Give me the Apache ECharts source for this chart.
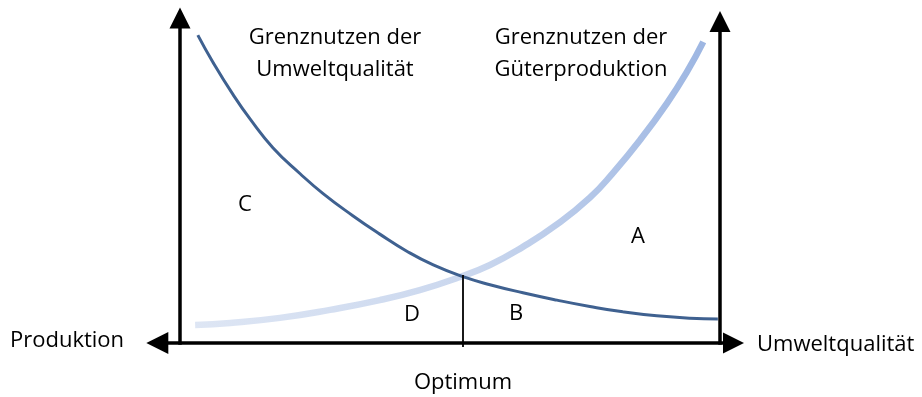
<!DOCTYPE html>
<html>
<head>
<meta charset="utf-8">
<script src="https://cdn.jsdelivr.net/npm/echarts@6/dist/echarts.min.js"></script>
<style>
  html, body { margin: 0; padding: 0; background: #fff; }
  #chart { width: 922px; height: 397px; }
</style>
</head>
<body>
<div id="chart"></div>
<script>
// Grenznutzen der Umweltqualität (fallend)
var umweltX = [3.3, 6.1, 9.8, 13.0, 17.2, 22.2, 26.5, 32.0, 37.0, 42.0, 46.9, 52.4, 57.4, 63.5, 69.8, 75.9, 82.0, 88.3, 94.4, 99.6];
var umweltY = [91.9, 83.8, 74.2, 66.8, 58.3, 50.6, 44.6, 38.0, 32.5, 27.4, 23.3, 19.8, 17.4, 15.0, 12.8, 10.9, 9.3, 8.1, 7.4, 7.2];
// Grenznutzen der Güterproduktion (steigend)
var gueterX = [2.8, 9.3, 18.5, 27.8, 37.0, 44.4, 51.3, 57.4, 63.5, 69.8, 75.9, 80.2, 85.2, 90.2, 93.9, 96.9];
var gueterY = [5.4, 6.0, 7.5, 9.9, 12.8, 15.8, 19.4, 23.3, 28.7, 35.4, 43.4, 50.8, 60.6, 71.6, 81.0, 89.9];
var optimumX = 52.4;
var optimumTop = 20.3;

function pairs(xs, ys) {
    var out = [];
    for (var i = 0; i < xs.length; i++) out.push([xs[i], ys[i]]);
    return out;
}

var chart = echarts.init(document.getElementById('chart'));

function txt(x, y, s, align) {
    return {
        type: 'text', x: x, y: y,
        style: {
            text: s, fontSize: 22, fontFamily: '"Open Sans", sans-serif', fill: '#000',
            align: align || 'center', verticalAlign: 'middle'
        }
    };
}

option = {
    backgroundColor: '#fff',
    animation: false,
    grid: { left: 180, right: 202, top: 8, bottom: 54 },
    xAxis: { type: 'value', min: 0, max: 100, show: false },
    yAxis: { type: 'value', min: 0, max: 100, show: false },
    graphic: [
        txt(335, 38, 'Grenznutzen der'),
        txt(335, 70, 'Umweltqualität'),
        txt(581, 38, 'Grenznutzen der'),
        txt(581, 70, 'Güterproduktion'),
        txt(245, 205, 'C'),
        txt(638, 237, 'A'),
        txt(412, 315, 'D'),
        txt(516, 314, 'B'),
        txt(10, 341, 'Produktion', 'left'),
        txt(757, 345, 'Umweltqualität', 'left'),
        txt(463, 383, 'Optimum')
    ],
    series: [
        {
            type: 'line',
            data: pairs(gueterX, gueterY),
            smooth: 0.5,
            showSymbol: false,
            lineStyle: {
                width: 6.5,
                color: new echarts.graphic.LinearGradient(0, 0, 1, 0, [
                    { offset: 0, color: '#dee6f4' },
                    { offset: 0.55, color: '#cad7ee' },
                    { offset: 1, color: '#9db6e2' }
                ])
            },
            z: 2
        },
        {
            type: 'line',
            data: pairs(umweltX, umweltY),
            smooth: 0.5,
            showSymbol: false,
            lineStyle: { width: 3, color: '#3f6190' },
            z: 3
        },
        {
            type: 'lines',
            coordinateSystem: 'cartesian2d',
            clip: false,
            symbol: ['none', 'triangle'],
            symbolSize: [22, 21],
            lineStyle: { color: '#000', width: 3.5, opacity: 1 },
            data: [
                { coords: [[0, -0.5], [0, 97]] },
                { coords: [[100, -0.5], [100, 96]] }
            ],
            z: 4
        },
        {
            type: 'lines',
            coordinateSystem: 'cartesian2d',
            clip: false,
            symbol: ['triangle', 'triangle'],
            symbolSize: [22, 21],
            lineStyle: { color: '#000', width: 3.5, opacity: 1 },
            data: [
                { coords: [[-4.2, 0], [102.5, 0]] }
            ],
            z: 4
        },
        {
            type: 'lines',
            coordinateSystem: 'cartesian2d',
            clip: false,
            symbol: ['none', 'none'],
            lineStyle: { color: '#000', width: 1.8, opacity: 1 },
            data: [
                { coords: [[optimumX, optimumTop], [optimumX, -1.2]] }
            ],
            z: 4
        }
    ]
};

chart.setOption(option);
</script>
</body>
</html>
